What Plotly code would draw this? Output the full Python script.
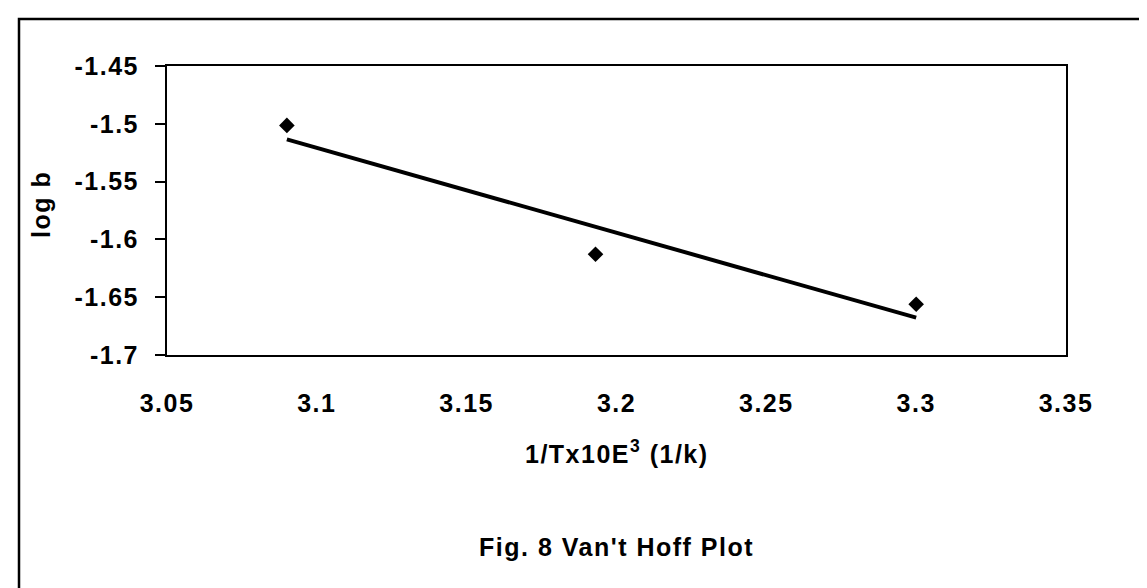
import numpy as np
import plotly.graph_objects as go

# Data
inv_T = [3.09, 3.193, 3.30]
log_b = [-1.5014, -1.6128, -1.6561]

x_ticks = [3.05, 3.1, 3.15, 3.2, 3.25, 3.3, 3.35]
x_tick_labels = ["3.05", "3.1", "3.15", "3.2", "3.25", "3.3", "3.35"]
y_ticks = [-1.45, -1.5, -1.55, -1.6, -1.65, -1.7]
y_tick_labels = ["-1.45", "-1.5", "-1.55", "-1.6", "-1.65", "-1.7"]

x_title = "1/Tx10E<sup>3</sup> (1/k)"
y_title = "log b"
caption = "Fig. 8 Van't Hoff Plot"

# Linear trendline (least squares) over the data range
slope, intercept = np.polyfit(inv_T, log_b, 1)
fit_x = [min(inv_T), max(inv_T)]
fit_y = [slope * v + intercept for v in fit_x]

FONT = "Liberation Sans, Arial, Helvetica, sans-serif"
FS = 25


def spaced(s):
    return '<span style="letter-spacing:1.5px">' + s + '</span>'


fig = go.Figure()
fig.add_trace(go.Scatter(
    x=fit_x, y=fit_y, mode="lines",
    line=dict(color="black", width=4),
    showlegend=False, hoverinfo="skip",
))
fig.add_trace(go.Scatter(
    x=inv_T, y=log_b, mode="markers",
    marker=dict(symbol="diamond", size=12, color="black"),
    showlegend=False,
))

W, H = 1147, 588
L, R, T, B = 159, 89, 58, 241
PW, PH = W - L - R, H - T - B

fig.update_layout(
    width=W, height=H,
    margin=dict(l=L, r=R, t=T, b=B, pad=0),
    paper_bgcolor="white", plot_bgcolor="white",
    font=dict(family=FONT, size=FS, color="black", weight="bold"),
    xaxis=dict(
        range=[3.05, 3.35], tickvals=x_ticks, ticktext=[spaced(t) for t in x_tick_labels],
        showgrid=False, zeroline=False,
        showline=True, linecolor="black", linewidth=2, mirror=True,
        ticks="", ticklabelstandoff=25,
        tickfont=dict(family=FONT, size=FS, color="black", weight="bold"),
    ),
    yaxis=dict(
        range=[-1.7, -1.45], tickvals=y_ticks, ticktext=[spaced(t) for t in y_tick_labels],
        showgrid=False, zeroline=False,
        showline=True, linecolor="black", linewidth=2, mirror=True,
        ticks="outside", ticklen=10, tickwidth=2, tickcolor="black",
        ticklabelstandoff=11,
        tickfont=dict(family=FONT, size=FS, color="black", weight="bold"),
    ),
    annotations=[
        dict(text=spaced(x_title), xref="paper", yref="paper", x=0.5, y=-(444 - (H - B)) / PH,
             xanchor="center", yanchor="middle", showarrow=False,
             font=dict(family=FONT, size=FS, color="black", weight="bold")),
        dict(text=spaced(y_title), xref="paper", yref="paper", x=-(L - 33) / PW, y=1 - (196 - T) / PH,
             xanchor="center", yanchor="middle", showarrow=False, textangle=-90,
             font=dict(family=FONT, size=FS, color="black", weight="bold")),
        dict(text=spaced(caption), xref="paper", yref="paper", x=0.5, y=-(539 - (H - B)) / PH,
             xanchor="center", yanchor="middle", showarrow=False,
             font=dict(family=FONT, size=FS, color="black", weight="bold")),
    ],
    shapes=[
        dict(type="rect", xref="paper", yref="paper",
             x0=-(L - 11) / PW, x1=(W + 20 - L) / PW,
             y0=-(H + 20 - (H - B)) / PH, y1=1 + (T - 11) / PH,
             line=dict(color="black", width=2.5), layer="below"),
    ],
)

fig.write_html("out.html")
